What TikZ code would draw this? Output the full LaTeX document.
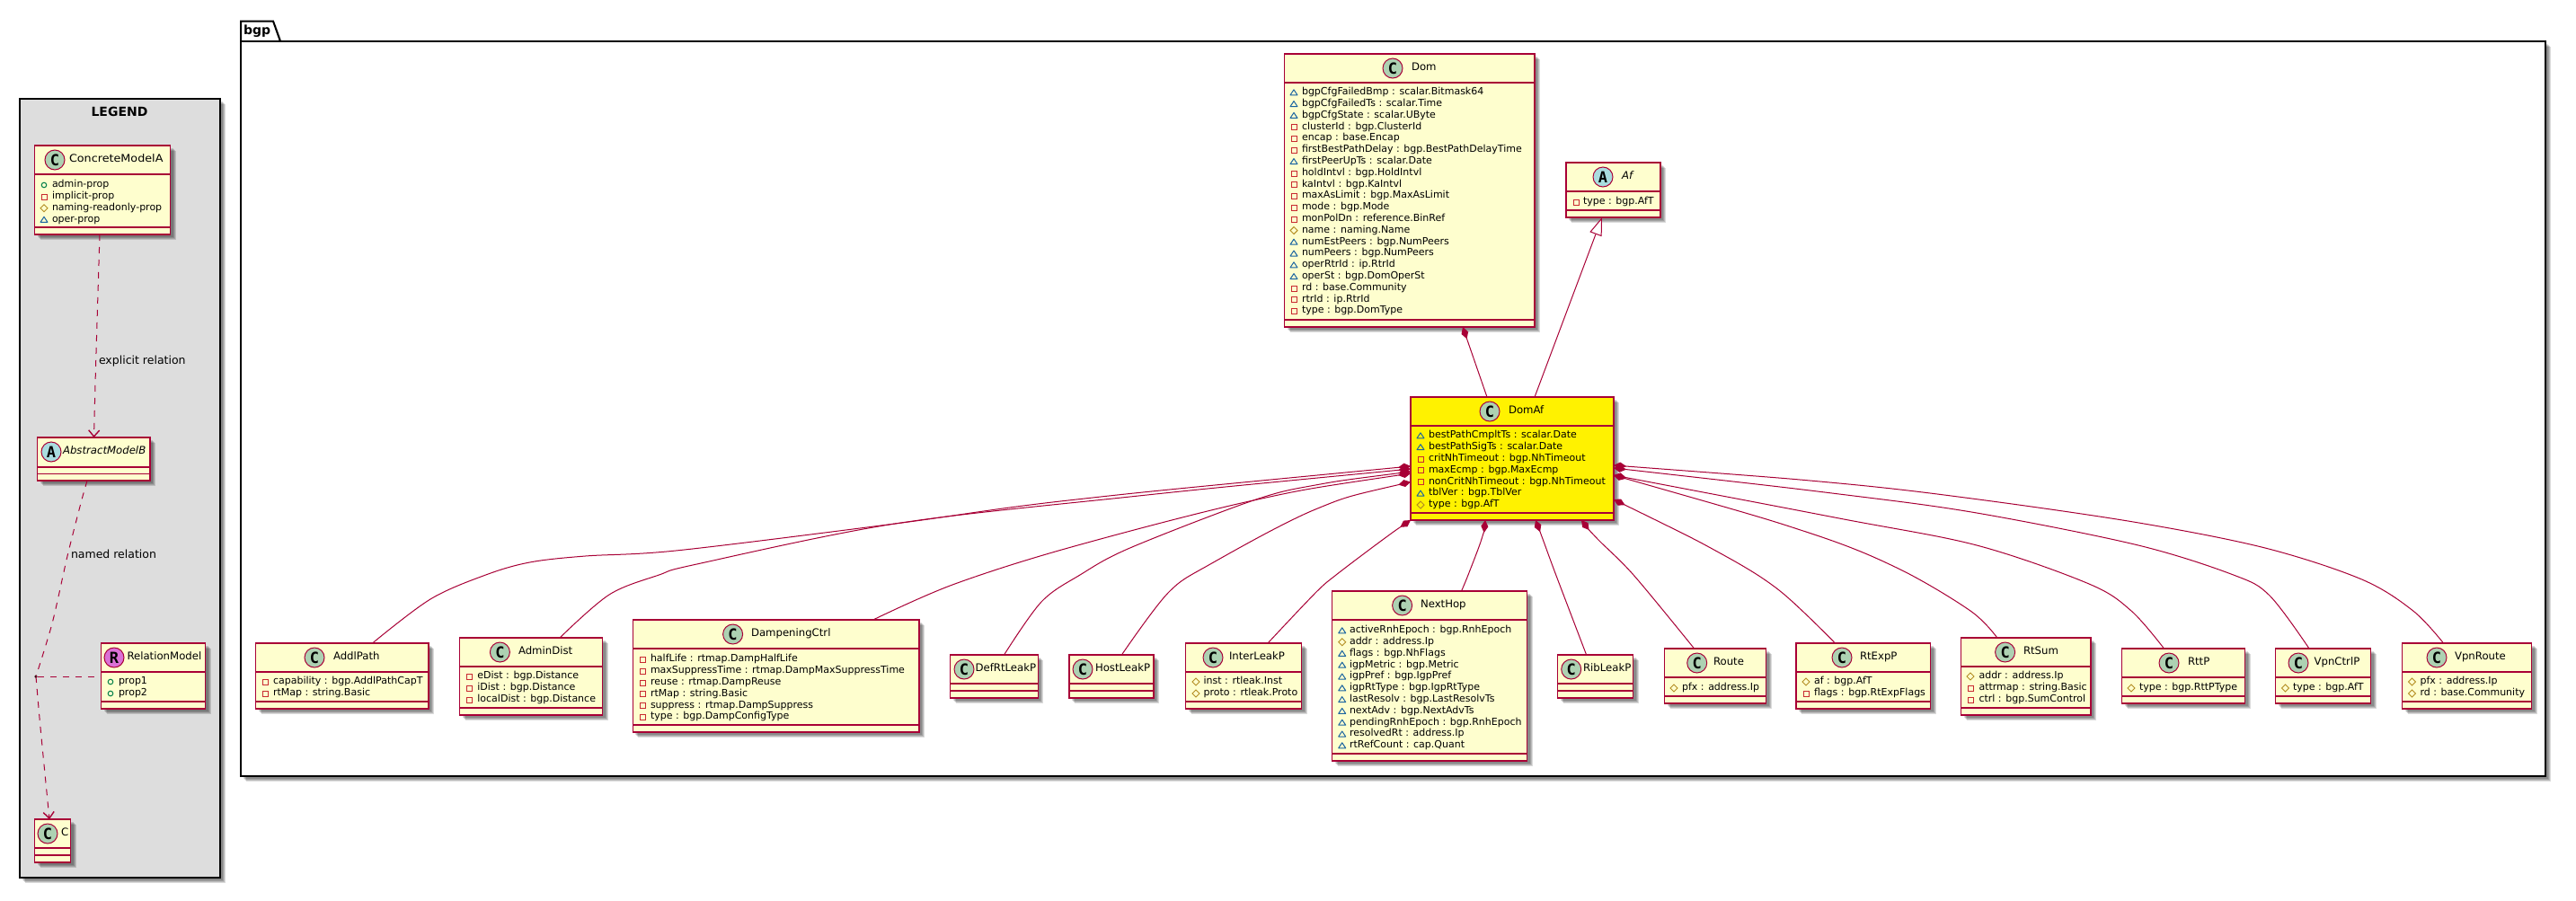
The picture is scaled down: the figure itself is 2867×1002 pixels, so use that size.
\documentclass[tikz,border=0pt]{standalone}
\usepackage{fontspec}
\setmainfont{DejaVu Sans}
\newfontfamily\circfont{DejaVu Sans Mono}
\usetikzlibrary{calc,arrows.meta}
\definecolor{umlred}{HTML}{A80036}
\definecolor{umlfill}{HTML}{FEFECE}
\definecolor{circC}{HTML}{ADD1B2}
\definecolor{circA}{HTML}{A9DCDF}
\definecolor{circR}{HTML}{DA70D6}
\definecolor{mkpriv}{HTML}{C82930}
\definecolor{mkprot}{HTML}{B38D22}
\definecolor{mkpack}{HTML}{1963A0}
\definecolor{mkpub}{HTML}{038048}
\definecolor{legendbg}{HTML}{DDDDDD}
\tikzset{
  classbox/.style={draw=umlred,line width=1.5pt,inner sep=0pt,outer sep=0pt},
  seprule/.style={draw=umlred,line width=1.2pt},
  conn/.style={draw=umlred,line width=1pt},
  dashconn/.style={conn,dash pattern=on 7pt off 7pt},
  shadowlayer/.style={fill=black,fill opacity=.14,draw=none},
  member/.style={anchor=mid west,inner sep=0pt,outer sep=0pt,font=\fontsize{11}{13}\selectfont,text=black},
  classname/.style={anchor=mid west,inner sep=0pt,outer sep=0pt,font=\fontsize{11.7}{14}\selectfont,text=black},
  relabel/.style={anchor=mid west,inner sep=0pt,outer sep=0pt,font=\fontsize{12.5}{15}\selectfont,text=black},
  headtitle/.style={inner sep=0pt,outer sep=0pt,font=\fontsize{14}{16}\selectfont\bfseries,text=black},
  circlemark/.style={circle,draw=umlred,line width=1pt,minimum size=22pt,inner sep=0pt,outer sep=0pt,font=\circfont\fontsize{17}{17}\selectfont\bfseries,text=black},
  pkgline/.style={draw=black,line width=2pt},
  diamondstart/.style={{Diamond[length=14pt,width=8pt,fill=umlred]}-},
  barbend/.style={-{Straight Barb[length=7pt,width=12pt,line width=1.4pt]}}
}
% soft box shadow
\newcommand\softshadow[4]{%
  \foreach \o in {6,5,4,3}{%
    \fill[shadowlayer] (#1+\o,#2+\o) rectangle (#3+\o,#4+\o);}%
}
% box: [fill]{id}{x1}{y1}{x2}{y2}{sep1}
\newcommand\umlbox[7][umlfill]{%
  \softshadow{#3}{#4}{#5}{#6}%
  \pgfmathsetmacro\bw{#5-#3}\pgfmathsetmacro\bh{#6-#4}%
  \node[classbox,fill=#1,minimum width=\bw pt,minimum height=\bh pt] (#2) at ({(#3+#5)/2},{(#4+#6)/2}) {};%
  \draw[seprule] (#2.west |- 0,#7) -- (#2.east |- 0,#7);%
}
\newcommand\umlsep[2]{\draw[seprule] (#1.west |- 0,#2) -- (#1.east |- 0,#2);}
% head: {id}{circle colour}{letter}{cx}{cy}{namex}{name}
\newcommand\umlhead[7]{%
  \node[circlemark,fill=#2] (#1c) at (#4,#5) {#3};%
  \node[classname] (#1n) at (#6,#5) {#7};%
}
\newcommand\mka[2]{\draw[draw=mkpack,line width=1pt,line join=round] (#1-4,#2+2.8) -- (#1+4,#2+2.8) -- (#1,#2-3.2) -- cycle;}
\newcommand\mkp[2]{\draw[draw=mkpriv,line width=1pt] (#1-3,#2-2.6) rectangle (#1+3,#2+3.4);}
\newcommand\mkh[2]{\draw[draw=mkprot,line width=.9pt] (#1-4,#2) -- (#1,#2-4) -- (#1+4,#2) -- (#1,#2+4) -- cycle;}
\newcommand\mko[2]{\draw[draw=mkpub,line width=1pt] (#1,#2) circle[radius=2.8pt];}
% members: {id}{markerx}{textx}{y0}{step}{list}
\newcommand\members[6]{%
  \foreach \t/\s [count=\i] in {#6}{%
    \pgfmathsetmacro\yy{#4+(\i-1)*#5}%
    \csname mk\t\endcsname{#2}{\yy}%
    \node[member] (#1m\i) at (#3,\yy) {\s};%
  }%
}
% composition: {start dx}{start dy}{child}{end dx}{mid points}
\newcommand\comp[5]{%
  \coordinate (s#3) at ($(domaf.north west)+(#1,#2)$);%
  \coordinate (e#3) at ($(#3.north west)+(#4,0)$);%
  \draw[conn,diamondstart] plot[smooth,tension=.55] coordinates {(s#3) #5 (e#3)};%
}
\begin{document}
\begin{tikzpicture}[x=1pt,y=-1pt]
\useasboundingbox (0,0) rectangle (2867,1002);
\fill[white] (0,0) rectangle (2867,1002);

% ---------- legend frame
\softshadow{22}{110}{244.5}{977}
\node[draw=black,line width=2pt,fill=legendbg,minimum width=222.5pt,minimum height=867pt,inner sep=0pt,outer sep=0pt] (legend) at (133.25,543.5) {};
\node[headtitle] (legendt) at (133,124) {LEGEND};

% ---------- package frame
\fill[shadowlayer] (271,27) -- (307,27) -- (315,49) -- (271,49) -- cycle;
\softshadow{268}{46}{2833}{864}
\fill[white] (268,23.5) -- (304,23.5) -- (312,46) -- (268,46) -- cycle;
\draw[pkgline] (268,46) -- (268,23.5) -- (304,23.5) -- (312,46);
\node[draw=black,line width=2pt,fill=white,minimum width=2565pt,minimum height=818pt,inner sep=0pt,outer sep=0pt] (pkg) at (1550.5,455) {};
\node[headtitle,anchor=mid west] (pkgt) at (271,36) {bgp};

% ---------- legend classes
\umlbox{conc}{38.5}{162}{189.5}{261}{194}
\umlsep{conc}{253}
\umlhead{conc}{circC}{C}{61}{178}{77}{\scalebox{1.09}[1]{ConcreteModelA}}
\members{conc}{49}{58}{206}{12.85}{o/admin-prop,p/implicit-prop,h/naming-readonly-prop,a/oper-prop}

\umlbox{absb}{41.5}{487}{167}{535}{520}
\umlsep{absb}{527.5}
\umlhead{absb}{circA}{A}{57}{503}{70}{\itshape AbstractModelB}

\umlbox{rel}{112.5}{716}{228.5}{789}{748}
\umlsep{rel}{781}
\umlhead{rel}{circR}{R}{127}{732}{141.5}{RelationModel}
\members{rel}{123}{132}{759}{13}{o/prop1,o/prop2}

\umlbox{cc}{38.5}{912}{78.5}{960}{944}
\umlsep{cc}{952}
\umlhead{cc}{circC}{C}{53}{928}{68}{C}

\node[circle,fill=black,minimum size=3.5pt,inner sep=0pt,outer sep=0pt] (reldot) at (40,753) {};
\coordinate (concS) at ($(conc.south west)+(72.5,0)$);
\coordinate (absN) at ($(absb.north west)+(63,0)$);
\coordinate (absS) at ($(absb.south west)+(55.5,0)$);
\coordinate (ccN) at ($(cc.north west)+(16.5,0)$);
\coordinate (relW) at (rel.west |- reldot);
\draw[dashconn,barbend] plot[smooth,tension=.5] coordinates {(concS) (106.7,403) (absN)};
\draw[dashconn] plot[smooth,tension=.5] coordinates {(absS) (90,560) (75,619) (58.3,693) (reldot)};
\draw[dashconn,barbend] plot[smooth,tension=.5] coordinates {(reldot) (45,810) (ccN)};
\draw[dashconn] (reldot) -- (relW);
\node[relabel] (lab1) at (110,403) {explicit relation};
\node[relabel] (lab2) at (79,619) {named relation};

% ---------- bgp classes
\umlbox{dom}{1429.5}{60}{1708}{364}{92}
\umlsep{dom}{356}
\umlhead{dom}{circC}{C}{1550}{76}{1571}{Dom}
\members{dom}{1440}{1449}{103}{12.8}{a/bgpCfgFailedBmp : scalar.Bitmask64,a/bgpCfgFailedTs : scalar.Time,a/bgpCfgState : scalar.UByte,p/clusterId : bgp.ClusterId,p/encap : base.Encap,p/firstBestPathDelay : bgp.BestPathDelayTime,a/firstPeerUpTs : scalar.Date,p/holdIntvl : bgp.HoldIntvl,p/kaIntvl : bgp.KaIntvl,p/maxAsLimit : bgp.MaxAsLimit,p/mode : bgp.Mode,p/monPolDn : reference.BinRef,h/name : naming.Name,a/numEstPeers : bgp.NumPeers,a/numPeers : bgp.NumPeers,a/operRtrId : ip.RtrId,a/operSt : bgp.DomOperSt,p/rd : base.Community,p/rtrId : ip.RtrId,p/type : bgp.DomType}

\umlbox{af}{1743}{181}{1848}{242}{213}
\umlsep{af}{234}
\umlhead{af}{circA}{A}{1784}{197}{1805}{\itshape Af}
\members{af}{1754}{1762}{225}{12.8}{p/type : bgp.AfT}

\umlbox[yellow]{domaf}{1570}{442}{1796}{579}{474}
\umlsep{domaf}{571}
\umlhead{domaf}{circC}{C}{1658}{458}{1679}{DomAf}
\members{domaf}{1581}{1590}{485}{12.85}{a/bestPathCmpltTs : scalar.Date,a/bestPathSigTs : scalar.Date,p/critNhTimeout : bgp.NhTimeout,p/maxEcmp : bgp.MaxEcmp,p/nonCritNhTimeout : bgp.NhTimeout,a/tblVer : bgp.TblVer,h/type : bgp.AfT}

\umlbox{addl}{284.5}{716}{477}{789}{748}
\umlsep{addl}{781}
\umlhead{addl}{circC}{C}{350}{732}{371}{AddlPath}
\members{addl}{295}{304}{759}{13}{p/capability : bgp.AddlPathCapT,p/rtMap : string.Basic}

\umlbox{admin}{511.5}{710}{670.7}{796}{742}
\umlsep{admin}{788}
\umlhead{admin}{circC}{C}{556.4}{726}{577}{AdminDist}
\members{admin}{522}{531.4}{753}{13}{p/eDist : bgp.Distance,p/iDist : bgp.Distance,p/localDist : bgp.Distance}

\umlbox{damp}{704.4}{690}{1023}{815}{722}
\umlsep{damp}{807}
\umlhead{damp}{circC}{C}{815.6}{706}{836}{DampeningCtrl}
\members{damp}{715.6}{724}{734}{12.85}{p/halfLife : rtmap.DampHalfLife,p/maxSuppressTime : rtmap.DampMaxSuppressTime,p/reuse : rtmap.DampReuse,p/rtMap : string.Basic,p/suppress : rtmap.DampSuppress,p/type : bgp.DampConfigType}

\umlbox{defrt}{1057.5}{729}{1155.4}{777}{761}
\umlsep{defrt}{769}
\umlhead{defrt}{circC}{C}{1073}{745}{1085.6}{DefRtLeakP}

\umlbox{host}{1190}{729}{1284}{777}{761}
\umlsep{host}{769}
\umlhead{host}{circC}{C}{1205}{745}{1219}{HostLeakP}

\umlbox{inter}{1319.7}{716}{1448.6}{789}{748}
\umlsep{inter}{781}
\umlhead{inter}{circC}{C}{1350}{732}{1368}{InterLeakP}
\members{inter}{1331}{1339.6}{759}{13}{h/inst : rtleak.Inst,h/proto : rtleak.Proto}

\umlbox{nexth}{1482.6}{658}{1699.7}{847}{690}
\umlsep{nexth}{839}
\umlhead{nexth}{circC}{C}{1560.6}{674}{1581}{NextHop}
\members{nexth}{1493.7}{1502}{702}{12.8}{a/activeRnhEpoch : bgp.RnhEpoch,h/addr : address.Ip,a/flags : bgp.NhFlags,a/igpMetric : bgp.Metric,a/igpPref : bgp.IgpPref,a/igpRtType : bgp.IgpRtType,a/lastResolv : bgp.LastResolvTs,a/nextAdv : bgp.NextAdvTs,a/pendingRnhEpoch : bgp.RnhEpoch,a/resolvedRt : address.Ip,a/rtRefCount : cap.Quant}

\umlbox{rib}{1733.6}{729}{1817.5}{777}{761}
\umlsep{rib}{769}
\umlhead{rib}{circC}{C}{1748.7}{745}{1762}{RibLeakP}

\umlbox{route}{1852.7}{722}{1965.6}{783}{754}
\umlsep{route}{775}
\umlhead{route}{circC}{C}{1888.7}{738}{1907}{Route}
\members{route}{1863}{1872}{766}{13}{h/pfx : address.Ip}

\umlbox{rtexp}{1999}{716}{2148.5}{789}{748}
\umlsep{rtexp}{781}
\umlhead{rtexp}{circC}{C}{2050}{732}{2070}{RtExpP}
\members{rtexp}{2010}{2019}{759}{13}{h/af : bgp.AfT,p/flags : bgp.RtExpFlags}

\umlbox{rtsum}{2182.6}{710}{2327}{796}{742}
\umlsep{rtsum}{788}
\umlhead{rtsum}{circC}{C}{2231.6}{726}{2252}{RtSum}
\members{rtsum}{2193}{2202.5}{753}{13}{h/addr : address.Ip,p/attrmap : string.Basic,p/ctrl : bgp.SumControl}

\umlbox{rttp}{2361.5}{722}{2498.5}{783}{754}
\umlsep{rttp}{775}
\umlhead{rttp}{circC}{C}{2414}{738}{2435}{RttP}
\members{rttp}{2372}{2381}{766}{13}{h/type : bgp.RttPType}

\umlbox{vpnc}{2532.5}{722}{2638.5}{783}{754}
\umlsep{vpnc}{775}
\umlhead{vpnc}{circC}{C}{2558}{738}{2575.6}{VpnCtrlP}
\members{vpnc}{2543.4}{2552}{766}{13}{h/type : bgp.AfT}

\umlbox{vpnr}{2673.6}{716}{2817.5}{789}{748}
\umlsep{vpnr}{781}
\umlhead{vpnr}{circC}{C}{2712}{732}{2732}{VpnRoute}
\members{vpnr}{2684.4}{2693.5}{759}{13}{h/pfx : address.Ip,h/rd : base.Community}

% ---------- connectors
\coordinate (domS) at ($(dom.south west)+(198.5,0)$);
\coordinate (daN1) at ($(domaf.north west)+(85,0)$);
\coordinate (daN2) at ($(domaf.north west)+(138,0)$);
\coordinate (afS) at ($(af.south west)+(40,0)$);
\draw[conn,diamondstart] (domS) -- (daN1);
\draw[conn,-{Triangle[length=20pt,width=14pt,fill=white]}] (daN2) -- (afS);

\comp{0}{77}{addl}{130}{(1189,557) (996,583) (755,612.7) (651.5,619) (589.5,626) (540.6,640) (479,667)}
\comp{0}{80}{admin}{111.5}{(1257.6,553) (996,583) (775.5,628) (733.5,640) (678,662)}
\comp{0}{85}{damp}{267.3}{(1395,557) (1188.7,610) (1060,651)}
\comp{0}{83}{defrt}{60}{(1464,540) (1395,557) (1257.6,610) (1202,640) (1159,670)}
\comp{0}{94.5}{host}{58.4}{(1464,567) (1347,628) (1300,660)}
\comp{0}{137}{inter}{91.3}{(1540,600) (1487,640) (1464,660)}
\comp{83}{137}{nexth}{143.9}{(1649,600) (1634,640)}
\comp{139}{137}{rib}{32}{(1717,600) (1731.7,640)}
\comp{190}{137}{route}{32.9}{(1778,600) (1818,640)}
\comp{226}{114}{rtexp}{43.5}{(1913,615) (1980,657)}
\comp{226}{87}{rtsum}{40.2}{(2013,593) (2113,633) (2193,680)}
\comp{226}{87}{rttp}{47}{(2047,577) (2200,607) (2325,650) (2372,680)}
\comp{226}{79}{vpnc}{37.5}{(2047,550) (2200,571) (2378.6,606.7) (2485.7,640) (2526,663)}
\comp{226}{76}{vpnr}{45.9}{(2047,538) (2200,555.7) (2378.6,581.7) (2521,610) (2628.6,645) (2685.7,680)}
\end{tikzpicture}
\end{document}
